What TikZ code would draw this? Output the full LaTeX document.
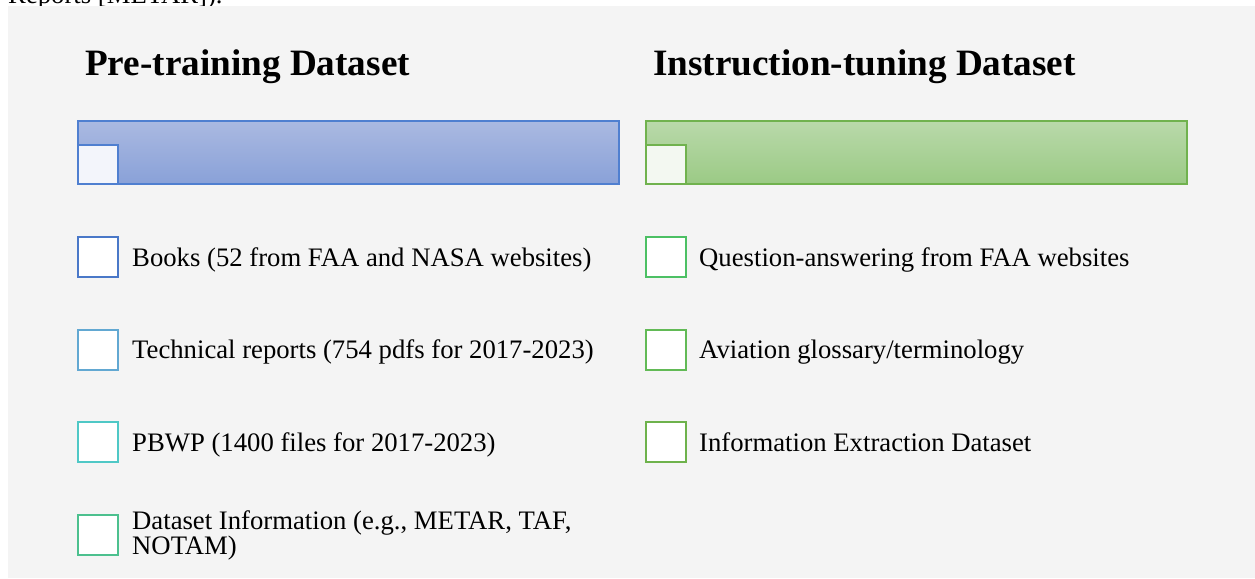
\documentclass[tikz,border=0pt]{standalone}
\usepackage{fontspec}
\setmainfont{Liberation Serif}
\definecolor{bgray}{HTML}{F4F4F4}
\definecolor{bluetop}{HTML}{AAB9E1}
\definecolor{bluebot}{HTML}{89A1D8}
\definecolor{blueline}{HTML}{4F7FD0}
\definecolor{bluein}{HTML}{F3F5FB}
\definecolor{greentop}{HTML}{B9D9AA}
\definecolor{greenbot}{HTML}{9BCA85}
\definecolor{greenline}{HTML}{70B24E}
\definecolor{greenin}{HTML}{F3F8F1}
\definecolor{lA}{HTML}{4A78C8}
\definecolor{lB}{HTML}{62A8D2}
\definecolor{lC}{HTML}{4FC8C6}
\definecolor{lD}{HTML}{4CC08E}
\definecolor{rA}{HTML}{4CC064}
\definecolor{rB}{HTML}{62BA56}
\definecolor{rC}{HTML}{6EB24C}
\begin{document}
\begin{tikzpicture}[x=1pt,y=-1pt,
  barbox/.style={draw, line width=1.2pt, minimum width=541pt, minimum height=63pt, anchor=north west, inner sep=0pt, outer sep=0pt},
  cornerbox/.style={draw, line width=1.2pt, minimum width=40pt, minimum height=39pt, anchor=north west, inner sep=0pt, outer sep=0pt},
  itembox/.style={draw, fill=white, line width=1.2pt, minimum size=40pt, anchor=north west, inner sep=0pt, outer sep=0pt},
  itemtext/.style={anchor=base west, inner sep=0pt, font=\fontsize{26.7}{23}\selectfont},
  multitext/.style={anchor=west, inner sep=0pt, align=left, font=\fontsize{26.7}{23}\selectfont},
  titletext/.style={anchor=base west, inner sep=0pt, font=\fontsize{37.2}{44}\selectfont\bfseries}]
\useasboundingbox (0,0) rectangle (1255,578);
\begin{scope}
  \clip (0,0) rectangle (1255,6);
  \node[itemtext] (toptext) at (8,4) {Reports [METAR]).};
\end{scope}
\fill[bgray] (8,6) rectangle (1255,578);
% titles
\node[titletext] (t1) at (85,75) {Pre-training Dataset};
\node[titletext] (t2) at (653,75) {Instruction-tuning Dataset};
% bars
\node[barbox, draw=blueline, top color=bluetop, bottom color=bluebot] (bar1) at (78,121) {};
\node[cornerbox, draw=blueline, fill=bluein, anchor=south west] (c1) at (bar1.south west) {};
\node[barbox, draw=greenline, top color=greentop, bottom color=greenbot] (bar2) at (646,121) {};
\node[cornerbox, draw=greenline, fill=greenin, anchor=south west] (c2) at (bar2.south west) {};
% left items
\node[itembox, draw=lA] (b1) at (78,237) {};
\node[itembox, draw=lB] (b2) at (78,330) {};
\node[itembox, draw=lC] (b3) at (78,422) {};
\node[itembox, draw=lD] (b4) at (78,515) {};
\node[itemtext] (x1) at (132,266) {Books (52 from FAA and NASA websites)};
\node[itemtext] (x2) at (132,358) {Technical reports (754 pdfs for 2017-2023)};
\node[itemtext] (x3) at (132,451) {PBWP (1400 files for 2017-2023)};
\node[multitext] (x4) at (132,535.5) {Dataset Information (e.g., METAR, TAF,\\NOTAM)};
% right items
\node[itembox, draw=rA] (r1) at (646,237) {};
\node[itembox, draw=rB] (r2) at (646,330) {};
\node[itembox, draw=rC] (r3) at (646,422) {};
\node[itemtext] (y1) at (699,266) {Question-answering from FAA websites};
\node[itemtext] (y2) at (699,358) {Aviation glossary/terminology};
\node[itemtext] (y3) at (699,451) {Information Extraction Dataset};
\end{tikzpicture}
\end{document}
